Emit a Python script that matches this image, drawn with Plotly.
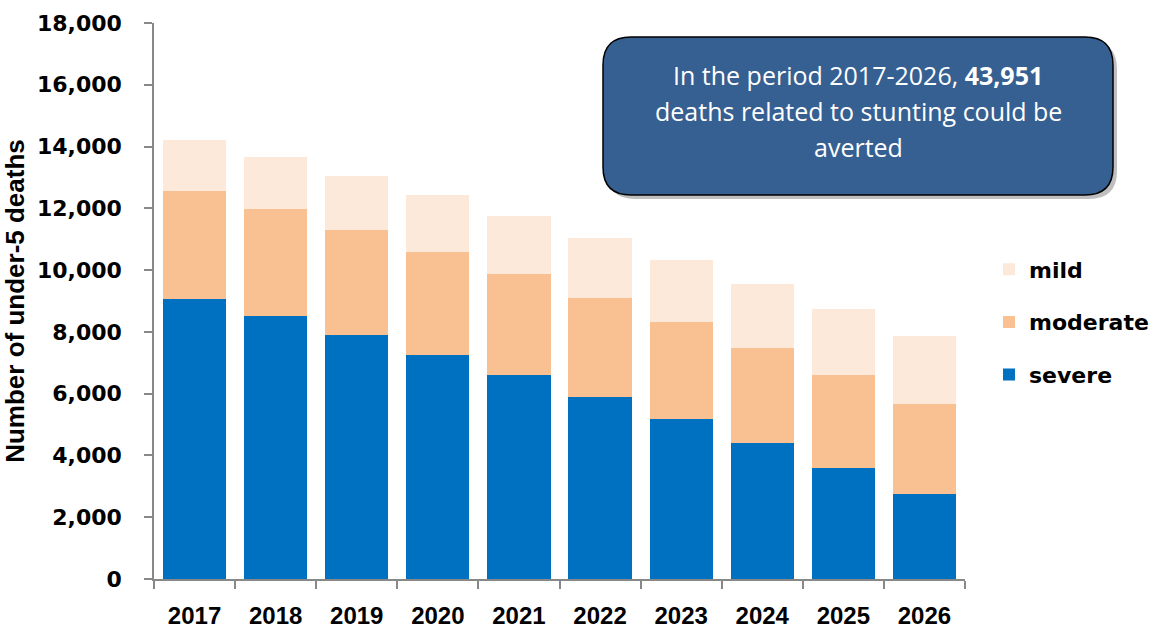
import plotly.graph_objects as go

years = ["2017", "2018", "2019", "2020", "2021", "2022", "2023", "2024", "2025", "2026"]
severe = [9070, 8500, 7900, 7250, 6600, 5890, 5170, 4410, 3600, 2760]
moderate = [3490, 3470, 3400, 3350, 3270, 3220, 3140, 3070, 2990, 2910]
mild = [1650, 1680, 1760, 1820, 1880, 1940, 2010, 2060, 2140, 2190]
series_names = ["severe", "moderate", "mild"]
series_colors = ["#0070C0", "#F9C191", "#FDE9DA"]
legend_ranks = [3, 2, 1]

W, H = 1154, 631
L, R, T, B = 154, 965, 23, 579  # plot area in px

fig = go.Figure()
for name, vals, col, rk in zip(series_names, [severe, moderate, mild], series_colors, legend_ranks):
    fig.add_trace(go.Bar(x=years, y=vals, name=name, legendgroup=name, legendrank=rk,
                         marker=dict(color=col, line=dict(width=0))))

AX = "#888888"
fig.update_layout(
    width=W, height=H,
    margin=dict(l=L, r=W - R, t=T, b=H - B, pad=0, autoexpand=False),
    barmode="stack", bargap=0.22,
    plot_bgcolor="white", paper_bgcolor="white",
    showlegend=True,
    legend=dict(x=(989 - L) / (R - L), xanchor="left",
                y=(B - 322) / (B - T), yanchor="middle",
                traceorder="grouped", tracegroupgap=21,
                font=dict(family="DejaVu Sans", size=22, color="black", weight="bold"),
                bgcolor="rgba(0,0,0,0)"),
    xaxis=dict(type="category", showline=True, linecolor=AX, linewidth=1.5, automargin=False,
               ticks="outside", tickson="boundaries", ticklen=8, tickcolor=AX, tickwidth=1.5,
               ticklabelstandoff=14,
               tickfont=dict(family="Liberation Sans Narrow, Liberation Sans", size=24, color="black", weight="bold"),
               showgrid=False, fixedrange=True),
    yaxis=dict(range=[0, 18000], dtick=2000, tickformat=",", showline=True, linecolor=AX,
               linewidth=1.5, ticks="outside", ticklen=8, tickcolor=AX, tickwidth=1.5,
               ticklabelstandoff=18, automargin=True,
               tickfont=dict(family="DejaVu Sans", size=22, color="black", weight="bold"),
               showgrid=False, zeroline=False,
               title=dict(text="Number of under-5 deaths", standoff=6,
                          font=dict(family="Liberation Sans Narrow, Liberation Sans", size=26, color="black", weight="bold"))),
)

# rounded callout box (paper coords computed from px)
def px2paper(px, py):
    return (px - L) / (R - L), (B - py) / (B - T)

def rounded_path(x0, y0, x1, y1, r):
    def P(px, py):
        a, b = px2paper(px, py)
        return f"{a:.5f},{b:.5f}"
    d = f"M {P(x0 + r, y0)} L {P(x1 - r, y0)} Q {P(x1, y0)} {P(x1, y0 + r)} "
    d += f"L {P(x1, y1 - r)} Q {P(x1, y1)} {P(x1 - r, y1)} "
    d += f"L {P(x0 + r, y1)} Q {P(x0, y1)} {P(x0, y1 - r)} "
    d += f"L {P(x0, y0 + r)} Q {P(x0, y0)} {P(x0 + r, y0)} Z"
    return d

bx0, by0, bx1, by1 = 603, 37, 1113, 195
fig.add_shape(type="path", xref="paper", yref="paper",
              path=rounded_path(bx0 + 4, by0 + 4, bx1 + 4, by1 + 4, 28),
              fillcolor="rgba(0,0,0,0.25)", line=dict(width=0), layer="above")
fig.add_shape(type="path", xref="paper", yref="paper",
              path=rounded_path(bx0, by0, bx1, by1, 28),
              fillcolor="#366092", line=dict(color="black", width=1.5), layer="above")

cx = (bx0 + bx1) / 2
lines = ["In the period 2017-2026, <b>43,951</b>",
         "deaths related to stunting could be",
         "averted"]
for i, txt in enumerate(lines):
    xp, yp = px2paper(cx, 75 + 36 * i)
    fig.add_annotation(x=xp, y=yp, xref="paper", yref="paper", text=txt, showarrow=False,
                       xanchor="center", yanchor="middle",
                       font=dict(family="Open Sans", size=25, color="white"))

fig.write_html("out.html", config={"displayModeBar": False},
               post_script="document.body.style.margin='0';document.body.style.overflow='hidden';")
